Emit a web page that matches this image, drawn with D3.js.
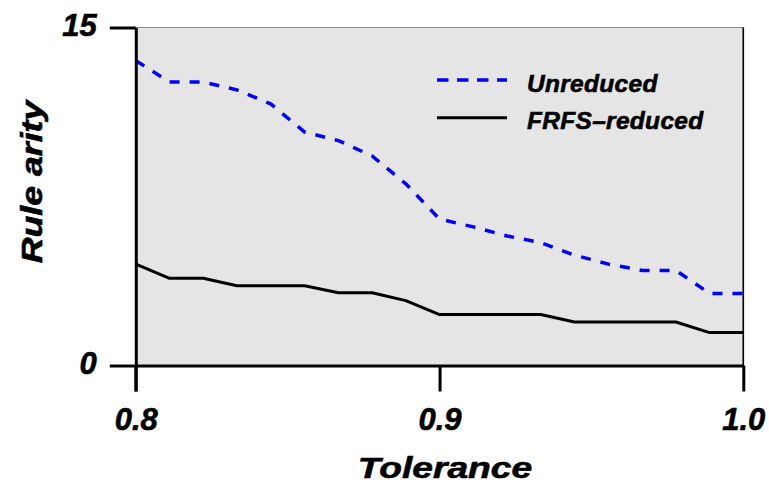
<!DOCTYPE html>
<html>
<head>
<meta charset="utf-8">
<script src="https://cdn.jsdelivr.net/npm/d3@7"></script>
<style>
  html, body { margin: 0; padding: 0; background: #fff; }
  svg text { font-family: "Liberation Sans", Arial, Helvetica, sans-serif; font-weight: bold; font-style: italic; fill: #000; stroke: #000; stroke-width: 0.6px; }
</style>
</head>
<body>
<svg id="chart" width="769" height="488"></svg>
<script>
// Tolerance levels (0.8 to 1.0 in 19 steps)
const tolerance = [0.8, 0.8111, 0.8222, 0.8333, 0.8444, 0.8556, 0.8667, 0.8778, 0.8889, 0.9,
                   0.9111, 0.9222, 0.9333, 0.9444, 0.9556, 0.9667, 0.9778, 0.9889, 1.0];
// Average rule arity per tolerance
const unreduced = [13.53, 12.58, 12.58, 12.23, 11.61, 10.36, 9.98, 9.30, 8.06, 6.50,
                   6.15, 5.75, 5.45, 4.90, 4.50, 4.22, 4.22, 3.20, 3.20];
const frfsReduced = [4.50, 3.87, 3.87, 3.54, 3.54, 3.54, 3.23, 3.23, 2.88, 2.26,
                     2.26, 2.26, 2.26, 1.93, 1.93, 1.93, 1.93, 1.46, 1.46];
const xTicks = [0.8, 0.9, 1.0];
const xTickLabels = ["0.8", "0.9", "1.0"];
const yTicks = [0, 15];
const seriesNames = ["Unreduced", "FRFS\u2013reduced"];

const svg = d3.select("#chart");
const plotLeft = 135.8, plotRight = 743.3, plotTop = 27.5, plotBottom = 365.5;

const x = d3.scaleLinear().domain([0.8, 1.0]).range([plotLeft, plotRight]);
const y = d3.scaleLinear().domain([0, 15]).range([plotBottom, plotTop]);

// Plot panel
svg.append("rect")
  .attr("x", plotLeft).attr("y", plotTop)
  .attr("width", plotRight - plotLeft).attr("height", plotBottom - plotTop)
  .attr("fill", "#e5e5e5")
  .attr("stroke", "#8a8a8a").attr("stroke-width", 1);
svg.append("line")
  .attr("x1", plotRight).attr("x2", plotRight).attr("y1", plotTop).attr("y2", plotBottom)
  .attr("stroke", "#000").attr("stroke-width", 1.6);

// Series lines
const line = (vals) => d3.line()
  .x((d, i) => x(tolerance[i]))
  .y(d => y(d))(vals);

svg.append("path")
  .attr("d", line(frfsReduced))
  .attr("fill", "none").attr("stroke", "#000").attr("stroke-width", 3)
  .attr("stroke-linejoin", "round");
svg.append("path")
  .attr("d", line(unreduced))
  .attr("fill", "none").attr("stroke", "#0000ff").attr("stroke-width", 3.5)
  .attr("stroke-dasharray", "10,10");

// Axes
const yAxis = svg.append("g")
  .attr("transform", `translate(${plotLeft},0)`)
  .call(d3.axisLeft(y).tickValues(yTicks).tickSize(26).tickSizeOuter(0).tickPadding(13));
const xAxis = svg.append("g")
  .attr("transform", `translate(0,${plotBottom})`)
  .call(d3.axisBottom(x).tickValues(xTicks).tickFormat((d, i) => xTickLabels[i])
        .tickSize(26).tickSizeOuter(0).tickPadding(17));

[yAxis, xAxis].forEach(g => {
  g.selectAll("path.domain").attr("stroke", "#000").attr("stroke-width", 3);
  g.selectAll(".tick line").attr("stroke", "#000").attr("stroke-width", 3);
  g.selectAll(".tick text")
    .attr("font-family", null).attr("font-size", null)
    .style("font-size", "31px");
});
yAxis.selectAll(".tick text").attr("dy", "0.25em");
xAxis.selectAll(".tick text").attr("dy", "0.68em");
// left axis continues down to meet the 0.8 tick
svg.append("line")
  .attr("x1", plotLeft).attr("x2", plotLeft).attr("y1", plotBottom).attr("y2", plotBottom + 26)
  .attr("stroke", "#000").attr("stroke-width", 3);

// Axis titles
svg.append("text")
  .attr("transform", "translate(445,478) scale(1.24,1)")
  .attr("text-anchor", "middle")
  .style("font-size", "30px")
  .text("Tolerance");
svg.append("text")
  .attr("transform", "translate(42,182) rotate(-90) scale(1.19,1)")
  .attr("text-anchor", "middle")
  .style("font-size", "30px")
  .text("Rule arity");

// Legend
const legend = svg.append("g");
const legendY = [80, 117.7];
legend.append("line")
  .attr("x1", 437).attr("x2", 507).attr("y1", legendY[0]).attr("y2", legendY[0])
  .attr("stroke", "#0000ff").attr("stroke-width", 3.5).attr("stroke-dasharray", "11.5,8.5");
legend.append("line")
  .attr("x1", 437).attr("x2", 507).attr("y1", legendY[1]).attr("y2", legendY[1])
  .attr("stroke", "#000").attr("stroke-width", 3);
seriesNames.forEach((name, i) => {
  legend.append("text")
    .attr("x", 527).attr("y", legendY[i] + 11.5)
    .style("font-size", "24.5px").style("letter-spacing", "0.3px")
    .text(name);
});
</script>
</body>
</html>
